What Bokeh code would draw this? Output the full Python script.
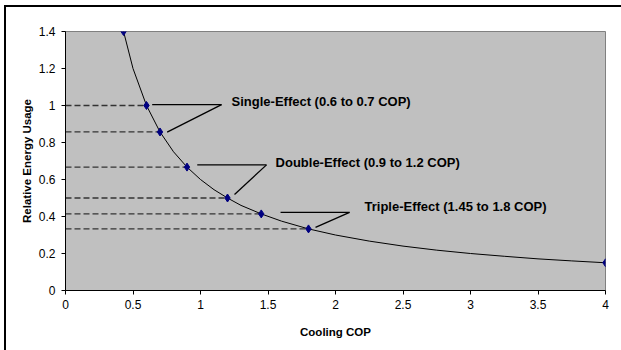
from bokeh.plotting import figure
from bokeh.models import Range1d, FixedTicker
from bokeh.embed import file_html
from bokeh.resources import INLINE
from bokeh.core.properties import value

# Curve (Cooling COP vs Relative Energy Usage)
cop_curve = [0.43, 0.5, 0.6, 0.7, 0.8, 0.9, 1.0, 1.1, 1.2, 1.3, 1.45, 1.6, 1.8,
             2.0, 2.25, 2.5, 2.75, 3.0, 3.25, 3.5, 3.75, 4.0]
energy_curve = [1.40, 1.20, 1.00, 0.857, 0.75, 0.667, 0.60, 0.545, 0.50, 0.46, 0.414,
                0.375, 0.333, 0.30, 0.267, 0.24, 0.218, 0.20, 0.185, 0.171, 0.16, 0.15]

# Marked points
cop_points = [0.43, 0.6, 0.7, 0.9, 1.2, 1.45, 1.8, 4.0]
energy_points = [1.4, 1.0, 0.857, 0.667, 0.5, 0.414, 0.333, 0.15]

# Dashed reference lines from the y axis to each technology point
dash_cop = [0.6, 0.7, 0.9, 1.2, 1.45, 1.8]
dash_energy = [1.0, 0.857, 0.667, 0.5, 0.414, 0.333]

# Callouts
labels = ["Single-Effect (0.6 to 0.7 COP)",
          "Double-Effect (0.9 to 1.2 COP)",
          "Triple-Effect (1.45 to 1.8 COP)"]
label_x = [1.23, 1.556, 2.215]
label_y = [1.02, 0.692, 0.454]
callout_x0 = [0.642, 0.976, 1.593]
callout_x1 = [1.156, 1.489, 2.104]
callout_y = [1.005, 0.679, 0.422]
callout_tip_x = [0.753, 1.252, 1.852]
callout_tip_y = [0.856, 0.519, 0.341]

x_ticks = [0, 0.5, 1, 1.5, 2, 2.5, 3, 3.5, 4]
x_tick_labels = ["0", "0.5", "1", "1.5", "2", "2.5", "3", "3.5", "4"]
y_ticks = [0, 0.2, 0.4, 0.6, 0.8, 1.0, 1.2, 1.4]
y_tick_labels = ["0", "0.2", "0.4", "0.6", "0.8", "1", "1.2", "1.4"]

FONT = "Liberation Sans"

p = figure(width=621, height=350, x_range=Range1d(0, 4), y_range=Range1d(0, 1.4),
           output_backend="svg", toolbar_location=None,
           min_border_left=65, min_border_right=16, min_border_top=31, min_border_bottom=60,
           background_fill_color="#C0C0C0", border_fill_color=None,
           outline_line_color="#808080", outline_line_width=1)
p.xgrid.visible = False
p.ygrid.visible = False

# Chart-area frame (left and top edges only, the rest is cropped in the reference),
# painted as the figure's page background behind the transparent border area
p.styles = {
    "background": ("linear-gradient(#000, #000) 4px 5px / 2px 345px no-repeat, "
                   "linear-gradient(#000, #000) 4px 5px / 617px 2px no-repeat, #ffffff"),
    "border": "none",
    "outline": "none",
    "box-shadow": "none",
}

p.segment(x0=[0] * len(dash_cop), y0=dash_energy, x1=dash_cop, y1=dash_energy,
          line_color="#333333", line_width=1.3, line_dash="6 3")

p.line(cop_curve, energy_curve, line_color="black", line_width=1)

p.segment(x0=callout_x0, y0=callout_y, x1=callout_x1, y1=callout_y,
          line_color="black", line_width=1.3)
p.segment(x0=callout_x1, y0=callout_y, x1=callout_tip_x, y1=callout_tip_y,
          line_color="black", line_width=1.3)

p.scatter(cop_points, energy_points, marker="diamond", size=8,
          fill_color="#000080", line_color="#000080")

p.text(x=label_x, y=label_y, text=labels, text_font=value(FONT),
       text_font_style="bold", text_font_size="13px",
       text_baseline="middle", text_align="left", text_color="black")

for ax, ticks, labs in ((p.xaxis[0], x_ticks, x_tick_labels), (p.yaxis[0], y_ticks, y_tick_labels)):
    ax.ticker = FixedTicker(ticks=ticks)
    ax.major_label_overrides = {t: l for t, l in zip(ticks, labs)}
    ax.minor_tick_line_color = None
    ax.major_tick_in = 0
    ax.major_tick_out = 4
    ax.major_tick_line_color = "black"
    ax.axis_line_color = "black"
    ax.major_label_text_font = FONT
    ax.major_label_text_font_size = "12px"
    ax.major_label_text_color = "black"
    ax.axis_label_text_font = FONT
    ax.axis_label_text_font_style = "bold"
    ax.axis_label_text_font_size = "11.5px"
    ax.axis_label_text_color = "black"

p.xaxis.axis_label = "Cooling COP"
p.yaxis.axis_label = "Relative Energy Usage"
p.xaxis.major_label_standoff = 5
p.yaxis.major_label_standoff = 6
p.xaxis.axis_label_standoff = 14
p.yaxis.axis_label_standoff = 3

open("out.html", "w").write(file_html(p, INLINE))
